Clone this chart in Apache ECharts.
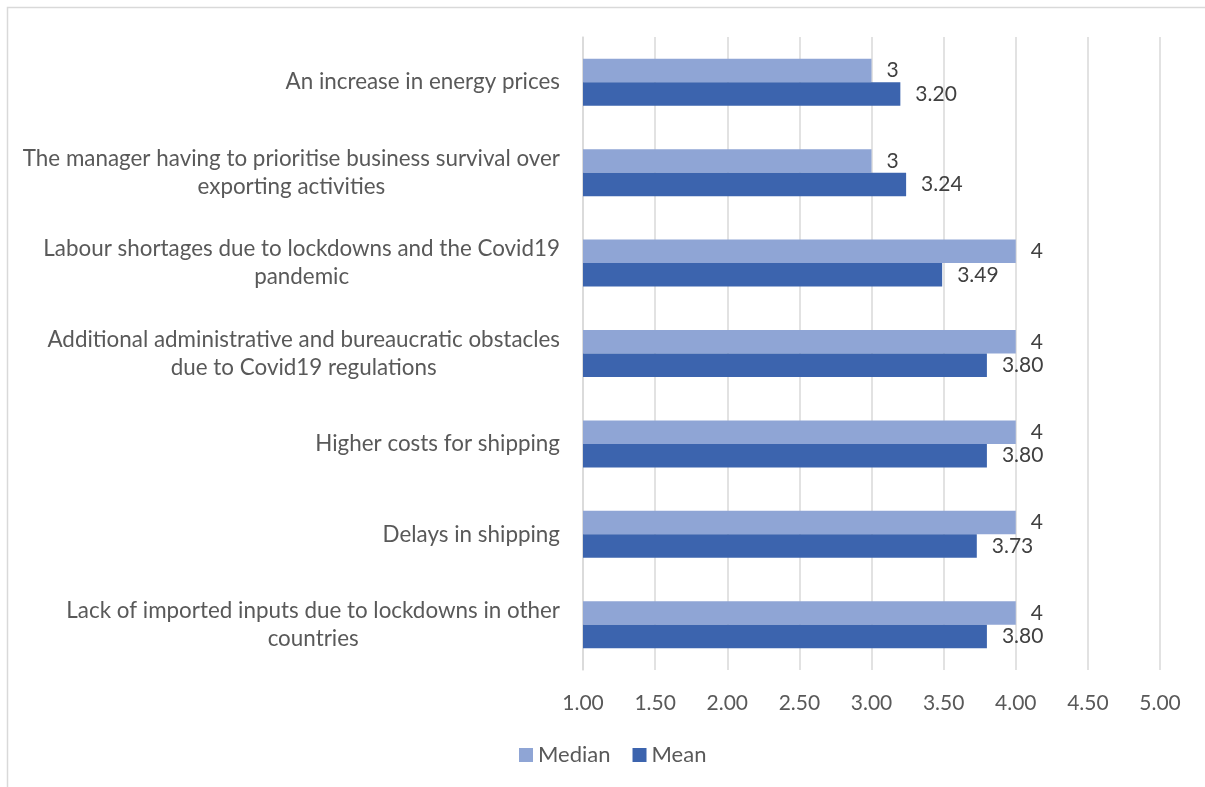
<!DOCTYPE html>
<html>
<head>
<meta charset="utf-8">
<script src="https://cdn.jsdelivr.net/npm/echarts@6/dist/echarts.min.js"></script>
<style>
html,body{margin:0;padding:0;background:#fff;}
#c{width:1205px;height:787px;}
</style>
</head>
<body>
<div id="c"></div>
<script>
var categories = [
  "An increase in energy prices",
  "The manager having to prioritise business survival over\nexporting activities",
  "Labour shortages due to lockdowns and the Covid19\npandemic",
  "Additional administrative and bureaucratic obstacles\ndue to Covid19 regulations",
  "Higher costs for shipping",
  "Delays in shipping",
  "Lack of imported inputs due to lockdowns in other\ncountries"
];
var medianValues = [3, 3, 4, 4, 4, 4, 4];
var meanValues = [3.20, 3.24, 3.49, 3.80, 3.80, 3.73, 3.80];
var xMin = 1, xMax = 5, xInterval = 0.5;

var FONT = 'Lato';
var chart = echarts.init(document.getElementById('c'), null, {renderer: 'canvas'});
chart.setOption({
  animation: false,
  backgroundColor: '#fff',
  textStyle: {fontFamily: FONT},
  graphic: [{
    type: 'rect', silent: true, z: -10,
    shape: {x: 7.5, y: 7.5, width: 1400, height: 1000},
    style: {fill: 'none', stroke: '#d9d9d9', lineWidth: 1.5}
  }],
  grid: {left: 583, right: 45, top: 37, bottom: 117, containLabel: false},
  legend: {
    data: ['Median', 'Mean'],
    left: 519, top: 744, padding: 0,
    itemWidth: 14, itemHeight: 14, itemGap: 22,
    icon: 'rect',
    textStyle: {color: '#595959', fontSize: 22, fontFamily: FONT, padding: [0, 0, 0, 0]}
  },
  xAxis: {
    type: 'value', min: xMin, max: xMax, interval: xInterval,
    axisLine: {show: false}, axisTick: {show: false},
    axisLabel: {color: '#595959', fontSize: 21, fontFamily: FONT, margin: 23,
      formatter: function (v) { return v.toFixed(2); }},
    splitLine: {show: true, lineStyle: {color: '#d9d9d9', width: 1.5}}
  },
  yAxis: {
    type: 'category', data: categories, inverse: true,
    axisLine: {show: true, lineStyle: {color: '#d9d9d9', width: 1.5}},
    axisTick: {show: false},
    axisLabel: {
      margin: 23, color: '#595959', fontSize: 22.4, fontFamily: FONT, lineHeight: 28,
      formatter: function (v) {
        return v.split('\n').map(function (s) { return '{c|' + s + '}'; }).join('\n');
      },
      rich: {c: {align: 'center', color: '#595959', fontSize: 22.4, fontFamily: FONT, lineHeight: 28}}
    }
  },
  series: [
    {
      name: 'Median', type: 'bar', data: medianValues,
      barWidth: 23.5, barGap: '0%',
      itemStyle: {color: '#8fa5d5'},
      label: {show: true, position: 'right', distance: 15, color: '#404040',
        fontSize: 21, fontFamily: FONT, formatter: function (p) { return String(p.value); }}
    },
    {
      name: 'Mean', type: 'bar', data: meanValues,
      barWidth: 23.5, barGap: '0%',
      itemStyle: {color: '#3c64ae'},
      label: {show: true, position: 'right', distance: 15, color: '#404040',
        fontSize: 21, fontFamily: FONT, formatter: function (p) { return p.value.toFixed(2); }}
    }
  ]
});
</script>
</body>
</html>
